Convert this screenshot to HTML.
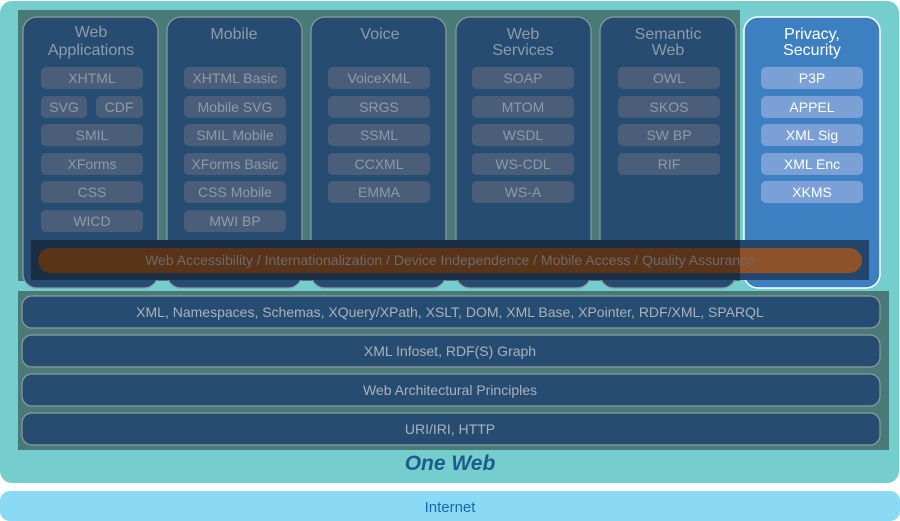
<!DOCTYPE html>
<html><head><meta charset="utf-8"><style>
html,body{margin:0;padding:0;background:#fff;width:900px;height:521px;overflow:hidden}
text{font-family:"Liberation Sans","DejaVu Sans",sans-serif}
</style></head><body>
<svg width="900" height="521" viewBox="0 0 900 521" xmlns="http://www.w3.org/2000/svg">
<defs>
<clipPath id="bar"><rect x="38" y="248" width="824" height="25" rx="12.5"/></clipPath>
</defs>
<rect x="0" y="1" width="899" height="482" rx="12" fill="#76cdcd"/>
<rect x="0" y="491" width="900" height="30" rx="10" fill="#8ad9f5"/>
<text x="450" y="512" text-anchor="middle" font-size="15" fill="#1769ad">Internet</text>
<rect x="18" y="10" width="722" height="271" fill="#497a77"/>
<rect x="18" y="291" width="871" height="159" fill="#497a77"/>
<g stroke="#8e9c9e" stroke-width="1.2" fill="#264c72">
<rect x="23" y="17" width="135" height="271" rx="14"/>
<rect x="167" y="17" width="135" height="271" rx="14"/>
<rect x="311" y="17" width="135" height="271" rx="14"/>
<rect x="456" y="17" width="135" height="271" rx="14"/>
<rect x="600" y="17" width="136" height="271" rx="14"/>
</g>
<rect x="744" y="17" width="136" height="271" rx="14" fill="#3d80c2" stroke="#ffffff" stroke-width="1.5"/>
<g font-size="16" fill="#8f9ca8" text-anchor="middle">
<text x="91" y="37">Web</text><text x="91" y="55">Applications</text>
<text x="234" y="39">Mobile</text>
<text x="380" y="39">Voice</text>
<text x="523" y="39">Web</text><text x="523" y="55">Services</text>
<text x="668" y="39">Semantic</text><text x="668" y="55">Web</text>
</g>
<g font-size="16" fill="#ffffff" text-anchor="middle">
<text x="812" y="39">Privacy,</text><text x="812" y="55">Security</text>
</g>
<g fill="#4a5e7a">
<rect x="41" y="67" width="102" height="22" rx="5"/>
<rect x="41" y="96" width="46" height="22" rx="5"/><rect x="96" y="96" width="47" height="22" rx="5"/>
<rect x="41" y="124" width="102" height="22" rx="5"/>
<rect x="41" y="153" width="102" height="22" rx="5"/>
<rect x="41" y="181" width="102" height="22" rx="5"/>
<rect x="41" y="210" width="102" height="22" rx="5"/>
<rect x="184" y="67" width="102" height="22" rx="5"/>
<rect x="184" y="96" width="102" height="22" rx="5"/>
<rect x="184" y="124" width="102" height="22" rx="5"/>
<rect x="184" y="153" width="102" height="22" rx="5"/>
<rect x="184" y="181" width="102" height="22" rx="5"/>
<rect x="184" y="210" width="102" height="22" rx="5"/>
<rect x="328" y="67" width="102" height="22" rx="5"/>
<rect x="328" y="96" width="102" height="22" rx="5"/>
<rect x="328" y="124" width="102" height="22" rx="5"/>
<rect x="328" y="153" width="102" height="22" rx="5"/>
<rect x="328" y="181" width="102" height="22" rx="5"/>
<rect x="472" y="67" width="102" height="22" rx="5"/>
<rect x="472" y="96" width="102" height="22" rx="5"/>
<rect x="472" y="124" width="102" height="22" rx="5"/>
<rect x="472" y="153" width="102" height="22" rx="5"/>
<rect x="472" y="181" width="102" height="22" rx="5"/>
<rect x="618" y="67" width="102" height="22" rx="5"/>
<rect x="618" y="96" width="102" height="22" rx="5"/>
<rect x="618" y="124" width="102" height="22" rx="5"/>
<rect x="618" y="153" width="102" height="22" rx="5"/>
</g>
<g fill="#7aa0d6">
<rect x="761" y="67" width="102" height="22" rx="5"/>
<rect x="761" y="96" width="102" height="22" rx="5"/>
<rect x="761" y="124" width="102" height="22" rx="5"/>
<rect x="761" y="153" width="102" height="22" rx="5"/>
<rect x="761" y="181" width="102" height="22" rx="5"/>
</g>
<g font-size="14" fill="#8e9aa8" text-anchor="middle">
<text x="92" y="83">XHTML</text><text x="64" y="112">SVG</text><text x="119" y="112">CDF</text>
<text x="92" y="140">SMIL</text><text x="92" y="169">XForms</text><text x="92" y="197">CSS</text><text x="92" y="226">WICD</text>
<text x="235" y="83">XHTML Basic</text><text x="235" y="112">Mobile SVG</text><text x="235" y="140">SMIL Mobile</text>
<text x="235" y="169">XForms Basic</text><text x="235" y="197">CSS Mobile</text><text x="235" y="226">MWI  BP</text>
<text x="379" y="83">VoiceXML</text><text x="379" y="112">SRGS</text><text x="379" y="140">SSML</text>
<text x="379" y="169">CCXML</text><text x="379" y="197">EMMA</text>
<text x="523" y="83">SOAP</text><text x="523" y="112">MTOM</text><text x="523" y="140">WSDL</text>
<text x="523" y="169">WS-CDL</text><text x="523" y="197">WS-A</text>
<text x="669" y="83">OWL</text><text x="669" y="112">SKOS</text><text x="669" y="140">SW BP</text><text x="669" y="169">RIF</text>
</g>
<g font-size="14" fill="#ffffff" text-anchor="middle">
<text x="812" y="83">P3P</text><text x="812" y="112">APPEL</text><text x="812" y="140">XML Sig</text>
<text x="812" y="169">XML Enc</text><text x="812" y="197">XKMS</text>
</g>
<rect x="31" y="240" width="709" height="40" fill="#1a2e45"/>
<rect x="740" y="240" width="129" height="40" fill="#24466b"/>
<g clip-path="url(#bar)">
<rect x="38" y="248" width="702" height="25" fill="#593419"/>
<rect x="740" y="248" width="122" height="25" fill="#8d522a"/>
</g>
<text x="450" y="265" text-anchor="middle" font-size="14" fill="#6e6a6a">Web Accessibility / Internationalization / Device Independence / Mobile Access / Quality Assurance</text>
<g stroke="#8e9c9e" stroke-width="1.2" fill="#264c72">
<rect x="22" y="296" width="858" height="32" rx="10"/>
<rect x="22" y="335" width="858" height="32" rx="10"/>
<rect x="22" y="374" width="858" height="32" rx="10"/>
<rect x="22" y="413" width="858" height="32" rx="10"/>
</g>
<g font-size="14" fill="#a9b2bb" text-anchor="middle">
<text x="450" y="317">XML, Namespaces, Schemas, XQuery/XPath, XSLT, DOM, XML Base, XPointer, RDF/XML, SPARQL</text>
<text x="450" y="356">XML Infoset, RDF(S) Graph</text>
<text x="450" y="395">Web Architectural Principles</text>
<text x="450" y="434">URI/IRI, HTTP</text>
</g>
<text x="450" y="470" text-anchor="middle" font-size="21" font-weight="bold" font-style="italic" fill="#1a5c8c">One Web</text>
</svg>
</body></html>
